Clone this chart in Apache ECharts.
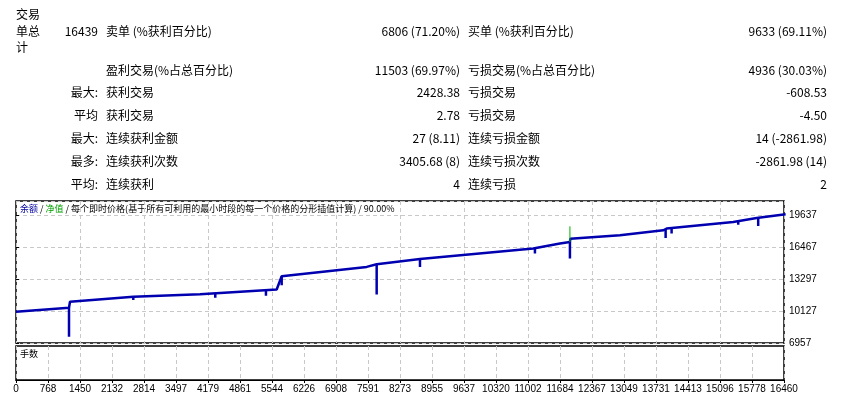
<!DOCTYPE html>
<html>
<head>
<meta charset="utf-8">
<script src="https://cdn.jsdelivr.net/npm/echarts@6/dist/echarts.min.js"></script>
<style>
    html, body { margin: 0; padding: 0; background: #fff; }
    #chart { width: 841px; height: 400px; }
</style>
</head>
<body>
<div id="chart"></div>
<script>
// 统计表
var rowY = [70, 92, 115, 138, 161, 184];
var rowHead = ['', '最大:', '平均', '最大:', '最多:', '平均:'];
var leftLabels = ['盈利交易(%占总百分比)', '获利交易', '获利交易', '连续获利金额', '连续获利次数', '连续获利'];
var leftValues = ['11503 (69.97%)', '2428.38', '2.78', '27 (8.11)', '3405.68 (8)', '4'];
var rightLabels = ['亏损交易(%占总百分比)', '亏损交易', '亏损交易', '连续亏损金额', '连续亏损次数', '连续亏损'];
var rightValues = ['4936 (30.03%)', '-608.53', '-4.50', '14 (-2861.98)', '-2861.98 (14)', '2'];

// 横轴刻度
var xTicks = ['0', '768', '1450', '2132', '2814', '3497', '4179', '4861', '5544', '6226', '6908', '7591',
    '8273', '8955', '9637', '10320', '11002', '11684', '12367', '13049', '13731', '14413', '15096', '15778', '16460'];

// 余额曲线 [交易序号, 余额]
var balance = [
    [0, 10058], [1136, 10454], [1157, 11048], [2514, 11543], [3943, 11811], [5587, 12276],
    [5694, 13594], [7515, 14515], [7730, 14783], [8658, 15300], [11086, 16338], [11658, 16833],
    [11872, 16990], [11880, 17323], [12944, 17656], [13872, 18150], [13944, 18320], [15372, 18977],
    [15873, 19374], [16495, 19736]
];
// 回撤尖刺 [交易序号, 最低值]
var dips = [
    [1136, 7581], [2514, 11217], [4271, 11450], [5357, 11643], [5694, 12702], [7730, 11781],
    [8658, 14515], [11122, 15843], [11872, 15347], [13923, 17388], [14051, 17824], [15479, 18715], [15907, 18577]
];
// 净值尖刺
var equityUp = [[11872, 16990, 18547]];

function lineAt(t) {
    for (var i = 1; i < balance.length; i++) {
        if (balance[i][0] >= t) {
            var a = balance[i - 1], b = balance[i];
            if (b[0] === a[0]) return a[1];
            return a[1] + (b[1] - a[1]) * (t - a[0]) / (b[0] - a[0]);
        }
    }
    return balance[balance.length - 1][1];
}

var spikeData = [];
dips.forEach(function (d) {
    spikeData.push([d[0], lineAt(d[0])], [d[0], d[1]], null);
});
var equityData = [];
equityUp.forEach(function (e) {
    equityData.push([e[0], e[1]], [e[0], e[2]]);
});

var font = 'Noto Sans CJK SC';
var graphics = [];
function txt(x, y, s, align, color, size) {
    graphics.push({
        type: 'text', x: x, y: y,
        style: { text: s, font: (size || 12) + 'px "' + font + '"', fill: color || '#000', align: align || 'left', verticalAlign: 'middle' }
    });
}
// 首行
txt(16, 14, '交易'); txt(16, 31, '单总'); txt(16, 47, '计');
txt(98, 31, '16439', 'right');
txt(106, 31, '卖单 (%获利百分比)');
txt(460, 31, '6806 (71.20%)', 'right');
txt(468, 31, '买单 (%获利百分比)');
txt(827, 31, '9633 (69.11%)', 'right');
rowY.forEach(function (y, i) {
    if (rowHead[i]) txt(98, y, rowHead[i], 'right');
    txt(106, y, leftLabels[i]);
    txt(460, y, leftValues[i], 'right');
    txt(468, y, rightLabels[i]);
    txt(827, y, rightValues[i], 'right');
});
// 图内标题
graphics.push({
    type: 'text', x: 20, y: 209,
    style: {
        text: '{b|余额} / {g|净值} / 每个即时价格(基于所有可利用的最小时段的每一个价格的分形插值计算) / 90.00%',
        font: '9px "' + font + '"', fill: '#000', verticalAlign: 'middle',
        rich: { b: { fill: '#0000a0', font: '9px "' + font + '"' }, g: { fill: '#00a000', font: '9px "' + font + '"' } }
    }
});
txt(20, 354, '手数', 'left', '#000', 9);

var chart = echarts.init(document.getElementById('chart'), null, { renderer: 'canvas' });
var gridLine = { show: true, lineStyle: { color: '#c8c8c8', type: [4, 3], width: 1 } };
chart.setOption({
    animation: false,
    graphic: graphics,
    grid: [
        { left: 16, right: 57, top: 201, height: 142, show: true, borderColor: '#000', borderWidth: 1.5 },
        { left: 16, right: 57, top: 346, height: 34, show: true, borderColor: '#000', borderWidth: 1.5 }
    ],
    xAxis: [
        { type: 'value', gridIndex: 0, min: 0, max: 16460, show: false },
        { type: 'category', gridIndex: 0, data: xTicks, boundaryGap: false, axisLine: { show: false },
          axisTick: { show: false }, axisLabel: { show: false }, splitLine: gridLine },
        { type: 'category', gridIndex: 1, data: xTicks, boundaryGap: false,
          axisLine: { lineStyle: { color: '#000' } }, axisTick: { show: true, length: 3, lineStyle: { color: '#000' } },
          axisLabel: { color: '#000', fontSize: 10, fontFamily: 'Liberation Sans', margin: 4, interval: 0 },
          splitLine: gridLine }
    ],
    yAxis: [
        { type: 'value', gridIndex: 0, position: 'right', min: 6957, max: 21063, interval: 3170,
          axisLine: { show: false }, axisTick: { show: true, length: 3, lineStyle: { color: '#000' } },
          axisLabel: { color: '#000', fontSize: 10, fontFamily: 'Liberation Sans', margin: 5, showMaxLabel: false,
                       formatter: function (v) { return String(Math.round(v)); } },
          splitLine: gridLine },
        { type: 'value', gridIndex: 1, min: 0, max: 1, show: false }
    ],
    series: [
        { type: 'line', xAxisIndex: 0, yAxisIndex: 0, data: balance, symbol: 'none',
          lineStyle: { color: '#0000b0', width: 2.5 } },
        { type: 'line', xAxisIndex: 0, yAxisIndex: 0, data: spikeData, symbol: 'none', connectNulls: false,
          lineStyle: { color: '#0000b0', width: 2.5 } },
        { type: 'line', xAxisIndex: 0, yAxisIndex: 0, data: equityData, symbol: 'none',
          lineStyle: { color: '#00b000', width: 1 } }
    ]
});
</script>
</body>
</html>
